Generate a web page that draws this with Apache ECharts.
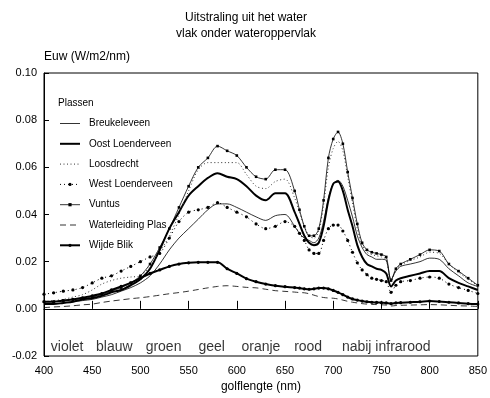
<!DOCTYPE html>
<html><head><meta charset="utf-8">
<script src="https://cdn.jsdelivr.net/npm/echarts@6/dist/echarts.min.js"></script>
<style>html,body{margin:0;padding:0;background:#fff}#c{width:490px;height:398px}</style>
</head><body><div id="c"></div>
<script>
const wavelengths = [400,410,420,430,440,450,460,470,480,490,500,510,520,530,540,550,560,570,580,590,600,610,620,630,640,650,
  660,665,670,675,680,685,690,695,700,705,710,715,720,725,730,735,740,745,750,755,760,765,770,
  780,790,800,810,820,830,840,850];

const breukeleveen = [.002,.0022,.0025,.003,.0035,.004,.005,.006,.0075,.009,.011,.014,.019,.025,.030,.034,.038,.042,.0445,.0445,.043,.041,.039,.0375,.0395,.040,
  .035,.032,.030,.029,.028,.030,.037,.047,.053,.0545,.052,.046,.039,.031,.026,.023,.022,.021,.021,.0205,.0125,.016,.018,
  .019,.020,.0215,.021,.017,.014,.011,.0095];
const oostLoenderveen = [.002,.002,.0025,.003,.004,.0045,.0055,.007,.008,.010,.0125,.017,.025,.034,.041,.048,.052,.0555,.0575,.056,.055,.052,.048,.046,.049,.049,
  .041,.036,.031,.028,.027,.028,.035,.046,.053,.054,.050,.042,.035,.027,.022,.019,.018,.017,.0165,.015,.0095,.012,.013,
  .014,.015,.016,.016,.013,.011,.0095,.008];
const loosdrecht = [.003,.0035,.004,.005,.006,.008,.0105,.012,.013,.0135,.014,.018,.024,.031,.040,.050,.059,.062,.062,.062,.062,.057,.052,.051,.054,.055,
  .047,.041,.035,.031,.030,.033,.044,.060,.068,.071,.067,.056,.045,.034,.027,.024,.023,.0225,.022,.021,.0115,.0165,.0185,
  .0205,.022,.024,.0235,.019,.0155,.0125,.0098];
const westLoenderveen = [.0062,.0068,.0075,.008,.009,.011,.013,.014,.016,.018,.020,.022,.0235,.030,.037,.041,.042,.043,.045,.043,.041,.039,.036,.034,.035,.037,
  .035,.032,.029,.025,.0235,.0235,.029,.034,.0355,.0355,.033,.029,.024,.0195,.0165,.0145,.013,.0125,.012,.0115,.007,.010,.0115,
  .012,.013,.0135,.013,.0105,.009,.0078,.0065];
const vuntus = [.003,.003,.0035,.004,.0045,.005,.006,.0075,.009,.011,.014,.019,.026,.034,.043,.052,.060,.064,.069,.067,.065,.060,.056,.055,.059,.059,
  .050,.042,.035,.031,.031,.034,.046,.064,.072,.075,.070,.058,.047,.036,.028,.025,.024,.0235,.023,.022,.012,.017,.019,
  .021,.023,.025,.0245,.019,.016,.013,.010];
const waterleidingPlas = [.0005,.0008,.001,.0013,.0017,.002,.0027,.0033,.0038,.0043,.0047,.0052,.0058,.0064,.0069,.0075,.0082,.0089,.0095,.0098,.0095,.0091,.0089,.0083,.0077,.0074,
  .0071,.0069,.0068,.0064,.0058,.0052,.0048,.0046,.0045,.0042,.0037,.0032,.0028,.0025,.0022,.002,.0019,.0018,.0017,.0016,.0012,.0014,.0015,
  .0016,.0017,.0018,.0017,.0015,.0013,.0012,.001];
const wijdeBlik = [.003,.003,.0035,.004,.0047,.0055,.0065,.008,.0095,.011,.013,.015,.0165,.018,.019,.0195,.0197,.0197,.0197,.017,.015,.0128,.0115,.0105,.0098,.0094,
  .009,.0088,.0085,.0083,.0085,.0088,.0088,.0085,.0078,.007,.006,.005,.0042,.0037,.0033,.003,.0028,.0027,.0026,.0025,.0022,.0025,.0026,
  .0028,.003,.0033,.0031,.0028,.0025,.0022,.002];

const seriesNames = ['Breukeleveen','Oost Loenderveen','Loosdrecht','West Loenderveen','Vuntus','Waterleiding Plas','Wijde Blik'];
const bandNames = ['violet','blauw','groen','geel','oranje','rood','nabij infrarood'];
const bandCenters = [424,473,524,574,625,674,755];

const FONT = '"Liberation Sans", Arial, Helvetica, sans-serif';
const pairs = arr => wavelengths.map((w,i)=>[w,arr[i]]);

const styles = {
  'Breukeleveen':      {line:{color:'#000', width:0.8}, symbol:null},
  'Oost Loenderveen':  {line:{color:'#000', width:2}, symbol:null},
  'Loosdrecht':        {line:{color:'#333', width:1, type:[1,2.5]}, symbol:null},
  'West Loenderveen':  {line:{color:'#000', width:1, type:[1,3]}, symbol:'circle', size:3.2},
  'Vuntus':            {line:{color:'#000', width:0.8}, symbol:'rect', size:2.6},
  'Waterleiding Plas': {line:{color:'#000', width:0.8, type:[6,4]}, symbol:null},
  'Wijde Blik':        {line:{color:'#000', width:2}, symbol:'circle', size:3.2}
};
const seriesData = {
  'Breukeleveen':breukeleveen, 'Oost Loenderveen':oostLoenderveen, 'Loosdrecht':loosdrecht,
  'West Loenderveen':westLoenderveen, 'Vuntus':vuntus, 'Waterleiding Plas':waterleidingPlas, 'Wijde Blik':wijdeBlik
};

const lineSeries = seriesNames.map((n, idx) => {
  const st = styles[n];
  const s = {
    name:n, type:'line', data:pairs(seriesData[n]), smooth:0.3,
    symbol: st.symbol || 'none', showSymbol: !!st.symbol, symbolSize: st.size || 0,
    lineStyle: st.line, itemStyle:{color: st.line.color}, animation:false, z:3
  };
  if (idx === 0) {
    s.markLine = {silent:true, symbol:'none', label:{show:false}, data:[{yAxis:0}],
      lineStyle:{color:'#000', width:1, type:'solid'}, animation:false};
  }
  return s;
});

const legendData = seriesNames.map(n => {
  const st = styles[n];
  const item = {name:n, lineStyle:Object.assign({}, st.line)};
  if (!st.symbol) item.itemStyle = {opacity:0};
  return item;
});

const chart = echarts.init(document.getElementById('c'), null, {renderer:'canvas'});
chart.setOption({
  animation:false,
  textStyle:{fontFamily:FONT, color:'#000'},
  title:[
    {text:'Uitstraling uit het water\nvlak onder wateroppervlak', left:241, top:4, textAlign:'center',
     textStyle:{fontSize:12, fontWeight:'normal', color:'#000', lineHeight:16.5, fontFamily:FONT}},
    {text:'Plassen', left:53, top:93, textStyle:{fontSize:10, fontWeight:'normal', color:'#000', fontFamily:FONT}}
  ],
  grid:{left:44, right:7, top:73, bottom:37, show:true, borderColor:'#000', borderWidth:1, backgroundColor:'transparent'},
  legend:{
    data:legendData,
    orient:'vertical', left:54, top:113.5, itemWidth:20, itemHeight:4, itemGap:10.3,
    textStyle:{fontSize:10, color:'#000', lineHeight:10, padding:[0,0,0,4], fontFamily:FONT}, selectedMode:false},
  xAxis:{type:'value', min:400, max:850, interval:50,
    axisLine:{show:true, lineStyle:{color:'#000', width:1}},
    axisTick:{show:true, inside:true, length:8, lineStyle:{color:'#000'}},
    splitLine:{show:false},
    axisLabel:{fontSize:11, color:'#000', margin:9, fontFamily:FONT},
    name:'golflengte (nm)', nameLocation:'middle', nameGap:25,
    nameTextStyle:{fontSize:12, color:'#000', fontFamily:FONT}},
  yAxis:{type:'value', min:-0.02, max:0.1, interval:0.02,
    axisLine:{show:true, lineStyle:{color:'#000', width:1}},
    axisTick:{show:true, inside:true, length:5, lineStyle:{color:'#000'}},
    splitLine:{show:false},
    axisLabel:{fontSize:11, color:'#000', margin:7, fontFamily:FONT, formatter:v=>v.toFixed(2)},
    name:'Euw (W/m2/nm)', nameLocation:'end', nameGap:10,
    nameTextStyle:{fontSize:12, color:'#000', align:'left', fontFamily:FONT}},
  series: lineSeries.concat([
    {type:'scatter', silent:true, animation:false, symbolSize:1, itemStyle:{color:'rgba(0,0,0,0)'},
     data:bandCenters.map((c,i)=>({name:bandNames[i], value:[c,-0.0163]})),
     label:{show:true, position:'inside', formatter:'{b}', fontSize:14, color:'#000', fontFamily:FONT}}
  ])
});
</script></body></html>
